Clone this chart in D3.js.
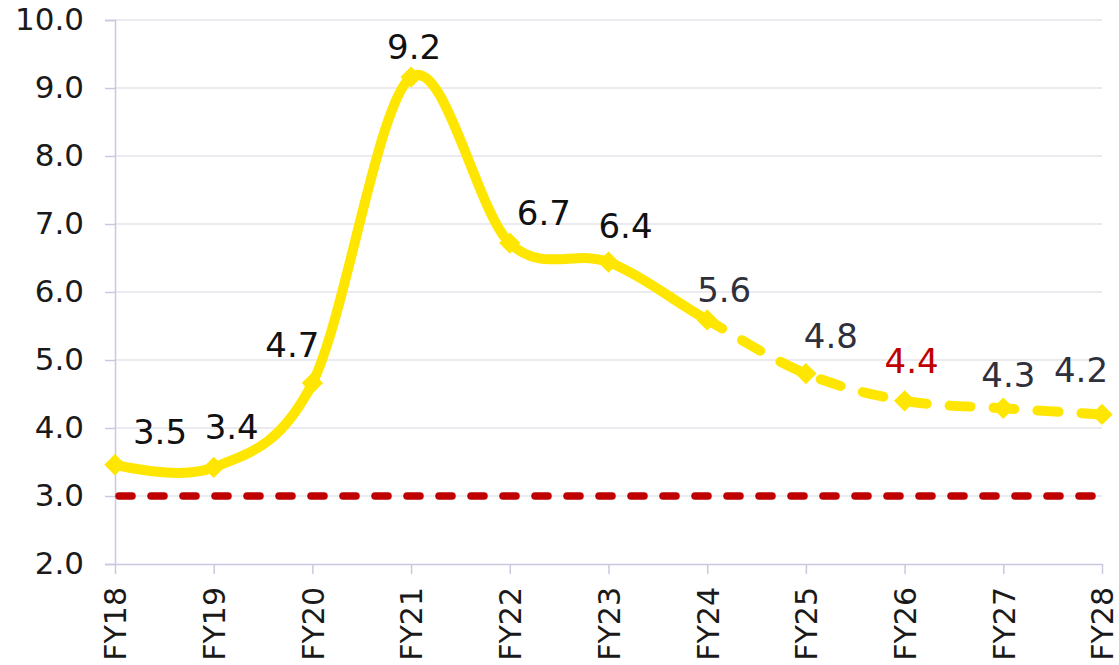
<!DOCTYPE html>
<html>
<head>
<meta charset="utf-8">
<script src="https://cdn.jsdelivr.net/npm/d3@7"></script>
<style>
  body { margin: 0; background: #fff; }
  text { font-family: "DejaVu Sans", Verdana, sans-serif; }
</style>
</head>
<body>
<svg width="1119" height="665"></svg>
<script>
// chart data
var years = ["FY18", "FY19", "FY20", "FY21", "FY22", "FY23", "FY24", "FY25", "FY26", "FY27", "FY28"];
var values = [3.46, 3.42, 4.66, 9.16, 6.72, 6.44, 5.59, 4.80, 4.40, 4.29, 4.20];
var targetValue = 3.0;
var yTicks = [2, 3, 4, 5, 6, 7, 8, 9, 10];
var forecastStart = "FY24"; // dashed from here on
var highlightYear = "FY26";

// label placement relative to its point (dx, dy)
var labelOffsets = [[45, -21], [18, -28], [-20, -26], [3, -18], [34, -18], [17, -24],
                    [17, -18], [25, -26], [7, -28], [5, -21], [-21, -32]];

var svg = d3.select("svg");
var margin = {top: 20, right: 17, bottom: 101, left: 115};
var width = +svg.attr("width") - margin.left - margin.right;
var height = +svg.attr("height") - margin.top - margin.bottom;

var x = d3.scalePoint().domain(years).range([0, width]);
var y = d3.scaleLinear().domain([2, 10]).range([height, 0]);

var g = svg.append("g")
  .attr("transform", "translate(" + margin.left + "," + margin.top + ")");

var axisColor = "#c8c8de";

// gridlines
g.selectAll(".grid")
  .data(yTicks.slice(1))
  .enter().append("line")
  .attr("x1", 0).attr("x2", width)
  .attr("y1", function(d) { return y(d); })
  .attr("y2", function(d) { return y(d); })
  .attr("stroke", "#e3e3ea")
  .attr("stroke-width", 1.3);

// y axis
var yAxis = g.append("g")
  .call(d3.axisLeft(y).tickValues(yTicks).tickSize(10).tickPadding(21).tickFormat(d3.format(".1f")));
yAxis.select(".domain").attr("stroke", axisColor).attr("stroke-width", 1.5);
yAxis.selectAll(".tick line").attr("stroke", axisColor).attr("stroke-width", 1.5);
yAxis.selectAll("text").attr("font-size", 31).attr("fill", "#1a1a1a")
  .attr("font-family", "'DejaVu Sans', Verdana, sans-serif");

// x axis
var xAxis = g.append("g")
  .attr("transform", "translate(0," + height + ")")
  .call(d3.axisBottom(x).tickSize(10).tickSizeOuter(0));
xAxis.select(".domain").attr("stroke", axisColor).attr("stroke-width", 1.5);
xAxis.selectAll(".tick line").attr("stroke", axisColor).attr("stroke-width", 1.5);
xAxis.selectAll("text")
  .attr("font-size", 30).attr("fill", "#1a1a1a")
  .attr("font-family", "'DejaVu Sans', Verdana, sans-serif")
  .attr("transform", "rotate(-90)")
  .attr("text-anchor", "end")
  .attr("x", -23).attr("y", 0).attr("dy", "0.36em");

// target line at 3.0
g.append("line")
  .attr("x1", 4).attr("x2", width)
  .attr("y1", y(targetValue)).attr("y2", y(targetValue))
  .attr("stroke", "#c00000")
  .attr("stroke-width", 7.5)
  .attr("stroke-linecap", "round")
  .attr("stroke-dasharray", "13,19");

// smoothed line, solid until forecastStart then dashed
var pts = years.map(function(d, i) { return {year: d, value: values[i]}; });
var line = d3.line()
  .x(function(d) { return x(d.year); })
  .y(function(d) { return y(d.value); })
  .curve(d3.curveCardinal.tension(0));

var splitX = x(forecastStart);
var defs = svg.append("defs");
defs.append("clipPath").attr("id", "clipSolid")
  .append("rect").attr("x", -20).attr("y", -20).attr("width", splitX + 20).attr("height", height + 40);
defs.append("clipPath").attr("id", "clipDash")
  .append("rect").attr("x", splitX).attr("y", -20).attr("width", width - splitX + 30).attr("height", height + 40);

var yellow = "#ffe600";

g.append("path")
  .datum(pts)
  .attr("d", line)
  .attr("fill", "none")
  .attr("stroke", yellow)
  .attr("stroke-width", 10)
  .attr("stroke-linejoin", "round")
  .attr("clip-path", "url(#clipSolid)");

var dashPath = g.append("path")
  .datum(pts)
  .attr("d", line)
  .attr("fill", "none")
  .attr("stroke", yellow)
  .attr("stroke-width", 10)
  .attr("stroke-linecap", "round")
  .attr("clip-path", "url(#clipDash)");

// start the dash pattern at the forecast point
var node = dashPath.node();
var total = node.getTotalLength();
var lo = 0, hi = total;
for (var k = 0; k < 40; k++) {
  var mid = (lo + hi) / 2;
  if (node.getPointAtLength(mid).x < splitX) lo = mid; else hi = mid;
}
dashPath.attr("stroke-dasharray", "21,23").attr("stroke-dashoffset", -lo + 4);

// diamond markers
var diamond = d3.symbol().type(d3.symbolDiamond2).size(290);
g.selectAll(".marker")
  .data(pts)
  .enter().append("path")
  .attr("d", diamond)
  .attr("transform", function(d) { return "translate(" + x(d.year) + "," + y(d.value) + ")"; })
  .attr("fill", yellow);

// data labels
var splitIndex = years.indexOf(forecastStart);
g.selectAll(".label")
  .data(pts)
  .enter().append("text")
  .attr("x", function(d, i) { return x(d.year) + labelOffsets[i][0]; })
  .attr("y", function(d, i) { return y(d.value) + labelOffsets[i][1]; })
  .attr("text-anchor", "middle")
  .attr("font-size", 34)
  .attr("fill", function(d, i) {
    if (d.year === highlightYear) return "#c00000";
    return i >= splitIndex ? "#30303c" : "#111";
  })
  .text(function(d) { return d.value.toFixed(1); });
</script>
</body>
</html>
